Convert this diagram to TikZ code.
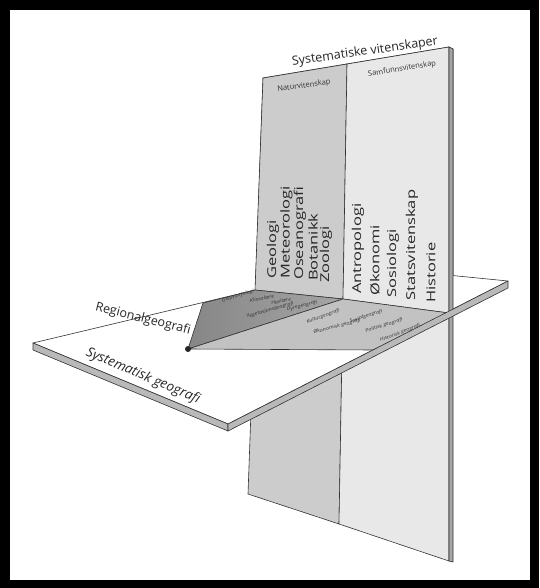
\documentclass[tikz,border=0pt]{standalone}
\usepackage{fontspec}
\setmainfont{Open Sans}
\newfontfamily\wideface[FakeStretch=1.35]{Open Sans}
\newfontfamily\branchface[FakeStretch=1.2]{Open Sans}
\begin{document}
\begin{tikzpicture}[x=1pt,y=-1pt,
    plate/.style={draw=black!80,line width=0.6pt,line join=round},
    bigword/.style={rotate=90,anchor=west,inner sep=0pt,text=black!85,font=\wideface\fontsize{12.2}{12.2}\selectfont},
    branch/.style={inner sep=0pt,text=black!80,font=\branchface\itshape\fontsize{4.6}{5}\selectfont}]
\useasboundingbox (0,0) rectangle (539,588);
% frame
\fill[black] (0,0) rectangle (539,588);
\fill[white] (10,10) rectangle (530,580);
% corners of the standing plate
\coordinate (VTL) at (263,78);
\coordinate (VTM) at (347,64);
\coordinate (VTR) at (449,47);
\coordinate (VTS) at (453,49);
\coordinate (VBL) at (248,494);
\coordinate (VBM) at (339,524);
\coordinate (VBR) at (449,561);
\coordinate (VBS) at (453,562);
\coordinate (IL) at (255,290);
\coordinate (IM) at (343,299);
\coordinate (IR) at (449,313);
\coordinate (IS) at (453,313);
% corners of the lying plate
\coordinate (L) at (33,343);
\coordinate (B) at (356,266);
\coordinate (R) at (508,281);
\coordinate (F) at (228,424);
\coordinate (L2) at (33,350);
\coordinate (F2) at (228,431);
\coordinate (R2) at (508,288);
% wedge
\coordinate (D) at (188,349);
\coordinate (W) at (203,303);
\coordinate (Q) at (373,350);
% standing plate, whole
\filldraw[plate,fill=gray!40] (VTL) -- (VTM) -- (VBM) -- (VBL) -- cycle;
\filldraw[plate,fill=gray!18] (VTM) -- (VTR) -- (VBR) -- (VBM) -- cycle;
\filldraw[plate,fill=gray!70] (VTR) -- (VTS) -- (VBS) -- (VBR) -- cycle;
% lying plate
\filldraw[plate,fill=white] (L) -- (B) -- (R) -- (F) -- cycle;
% standing plate, part above
\filldraw[plate,fill=gray!40] (VTL) -- (VTM) -- (IM) -- (IL) -- cycle;
\filldraw[plate,fill=gray!18] (VTM) -- (VTR) -- (IR) -- (IM) -- cycle;
\filldraw[plate,fill=gray!70] (VTR) -- (VTS) -- (IS) -- (IR) -- cycle;
% wedge
\draw[plate,left color=gray!95,right color=gray!70] (D) -- (W) -- (IL) -- (IM) -- cycle;
\filldraw[plate,fill=gray!48] (D) -- (IM) -- (IR) -- (Q) -- cycle;
% edges of the lying plate
\filldraw[plate,fill=gray!55] (L) -- (F) -- (F2) -- (L2) -- cycle;
\filldraw[plate,fill=gray!55] (F) -- (R) -- (R2) -- (F2) -- cycle;
\fill[black!85] (D) circle (3pt);
% labels
\node[inner sep=0pt,rotate=8,text=black!85,font=\fontsize{12.5}{13}\selectfont] (syv) at (365,52) {Systematiske vitenskaper};
\node[inner sep=0pt,rotate=8,text=black!80,font=\fontsize{7.5}{8}\selectfont] (nat) at (304,86) {Naturvitenskap};
\node[inner sep=0pt,rotate=9,text=black!80,font=\fontsize{7.5}{8}\selectfont] (sam) at (402,69) {Samfunnsvitenskap};
\node[bigword] (geo) at (273,279) {Geologi};
\node[bigword] (met) at (286.5,279) {Meteorologi};
\node[bigword] (ose) at (300,280) {Oseanografi};
\node[bigword] (bot) at (313,281) {Botanikk};
\node[bigword] (zoo) at (326,283) {Zoologi};
\node[bigword] (ant) at (358,294) {Antropologi};
\node[bigword] (oko) at (375,296) {Økonomi};
\node[bigword] (sos) at (393,298) {Sosiologi};
\node[bigword] (sta) at (412,301) {Statsvitenskap};
\node[bigword] (his) at (431,303) {Historie};
\node[branch,rotate=17] (gmf) at (238,296) {Geomorfologi};
\node[branch,rotate=10] (kli) at (262,298.5) {Klimalære};
\node[branch,rotate=13] (hav) at (281,301) {Havlære};
\node[branch,rotate=16] (veg) at (270,310) {Vegetasjonsgeografi};
\node[branch,rotate=14] (dyr) at (302,306) {Dyregeografi};
\node[branch,rotate=20] (kul) at (323,316.5) {Kulturgeografi};
\node[branch,rotate=15] (oek) at (337,326.5) {Økonomisk geografi};
\node[branch,rotate=18] (soc) at (366,316.5) {Sosialgeografi};
\node[branch,rotate=18] (pol) at (384,325.5) {Politisk geografi};
\node[branch,rotate=21] (hig) at (400,333) {Historisk geografi};
\node[inner sep=0pt,rotate=-14,text=black!85,font=\fontsize{12.5}{13}\selectfont] (reg) at (143,319) {Regionalgeografi};
\node[inner sep=0pt,rotate=-23,text=black!85,font=\itshape\fontsize{13.5}{14}\selectfont] (sgg) at (143,376) {Systematisk geografi};
\end{tikzpicture}
\end{document}
